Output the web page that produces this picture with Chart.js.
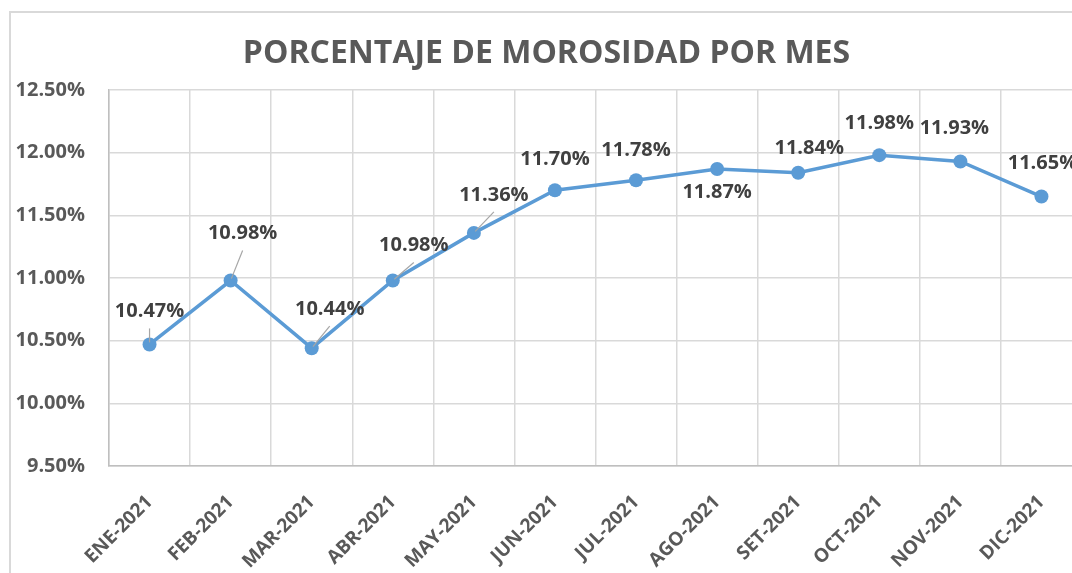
<!DOCTYPE html>
<html>
<head>
<meta charset="utf-8">
<script src="https://cdn.jsdelivr.net/npm/chart.js@4.4.1/dist/chart.umd.min.js"></script>
<style>
  html, body { margin: 0; padding: 0; background: #fff; overflow: hidden; width: 1072px; height: 573px; }
  #frame { position: absolute; left: 9px; top: 11px; width: 1100px; height: 600px;
           border-left: 2px solid #d9d9d9; border-top: 2px solid #d9d9d9; }
  #wrap { position: absolute; left: 0; top: 0; width: 1071px; height: 560px; }
</style>
</head>
<body>
<div id="frame"><div id="wrap"><canvas id="c"></canvas></div></div>
<script>
const categories = ['ENE-2021','FEB-2021','MAR-2021','ABR-2021','MAY-2021','JUN-2021',
                    'JUL-2021','AGO-2021','SET-2021','OCT-2021','NOV-2021','DIC-2021'];
const morosidad = [10.47, 10.98, 10.44, 10.98, 11.36, 11.70, 11.78, 11.87, 11.84, 11.98, 11.93, 11.65];
const yMin = 9.5, yMax = 12.5, yStep = 0.5;
const titleText = 'PORCENTAJE DE MOROSIDAD POR MES';

// label placement relative to each point (dx, dy, leader line)
const labelOffsets = [
  [0, -33, true], [12, -47, true], [18, -39, true], [21, -35, true], [20, -38, true],
  [0, -31, false], [0, -30, false], [0, 23, false], [11, -24, false], [0, -32, false],
  [-6, -33, false], [1, -33, false]
];

const FONT = '"Open Sans", Lato, sans-serif';

const labelPlugin = {
  id: 'pointLabels',
  afterDatasetsDraw(chart) {
    const ctx = chart.ctx;
    const meta = chart.getDatasetMeta(0);
    ctx.save();
    meta.data.forEach((pt, i) => {
      const [dx, dy, leader] = labelOffsets[i];
      const tx = pt.x + dx, ty = pt.y + dy;
      if (leader) {
        const sx = tx, sy = ty + 17;
        const vx = pt.x - sx, vy = pt.y - sy;
        const len = Math.hypot(vx, vy);
        const ex = pt.x - vx / len * 2, ey = pt.y - vy / len * 2;
        ctx.strokeStyle = '#a6a6a6';
        ctx.lineWidth = 1.2;
        ctx.beginPath();
        ctx.moveTo(sx, sy);
        ctx.lineTo(ex, ey);
        ctx.stroke();
      }
      ctx.font = 'bold 20px ' + FONT;
      ctx.fillStyle = '#404040';
      ctx.textAlign = 'center';
      ctx.textBaseline = 'middle';
      ctx.fillText(morosidad[i].toFixed(2) + '%', tx, ty);
    });
    ctx.restore();
  }
};

new Chart(document.getElementById('c'), {
  type: 'line',
  data: {
    labels: categories,
    datasets: [{
      data: morosidad,
      borderColor: '#5b9bd5',
      backgroundColor: '#5b9bd5',
      borderWidth: 3.5,
      pointRadius: 7,
      pointHoverRadius: 7,
      pointBorderWidth: 0,
      pointBackgroundColor: '#5b9bd5',
      pointBorderColor: '#5b9bd5',
      tension: 0
    }]
  },
  options: {
    responsive: true,
    maintainAspectRatio: false,
    animation: false,
    layout: { padding: 0, autoPadding: false },
    plugins: {
      legend: { display: false },
      tooltip: { enabled: false },
      title: {
        display: true,
        text: titleText,
        color: '#595959',
        font: { family: FONT, size: 32, weight: 'bold' },
        padding: { top: 22, bottom: 16.6 }
      }
    },
    scales: {
      x: {
        offset: true,
        grid: { offset: true, color: '#d9d9d9', lineWidth: 1.5, drawTicks: false },
        border: { color: '#bfbfbf', width: 1.5 },
        ticks: {
          color: '#595959',
          font: { family: FONT, size: 19, weight: 'bold' },
          maxRotation: 45, minRotation: 45,
          padding: 25,
          autoSkip: false
        },
        afterFit(scale) { scale.height = 107; scale.paddingRight = 0; }
      },
      y: {
        min: yMin, max: yMax,
        grid: { color: '#d9d9d9', lineWidth: 1.5, drawTicks: false },
        border: { color: '#bfbfbf', width: 1.5 },
        ticks: {
          stepSize: yStep,
          color: '#595959',
          font: { family: FONT, size: 20, weight: 'bold' },
          padding: 24,
          callback: v => v.toFixed(2) + '%'
        },
        afterFit(scale) { scale.width = 98; }
      }
    }
  },
  plugins: [labelPlugin]
});
</script>
</body>
</html>
